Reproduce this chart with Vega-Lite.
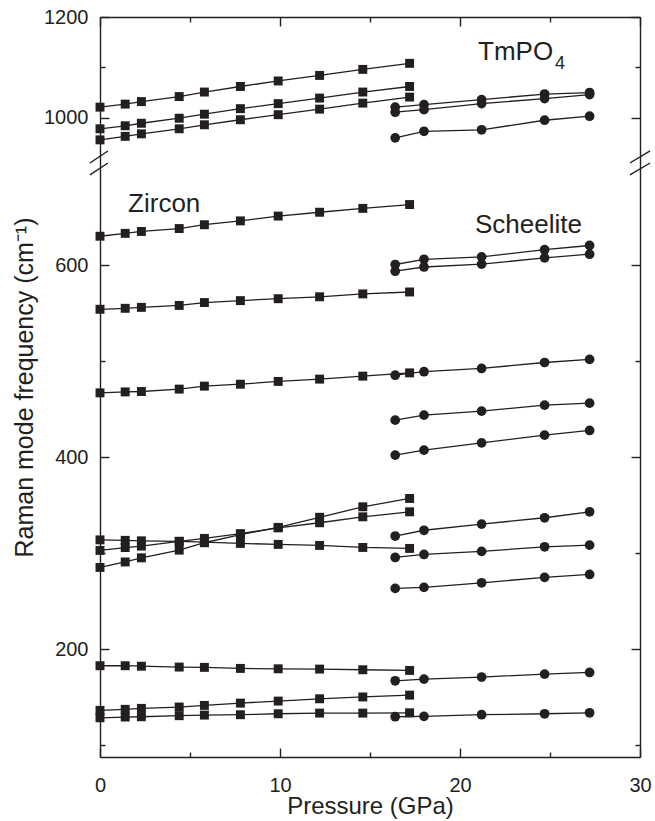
{
  "$schema": "https://vega.github.io/schema/vega-lite/v6.json",
  "width": 540,
  "height": 740,
  "autosize": {"type": "none"},
  "padding": {"left": 100, "top": 17, "right": 15, "bottom": 64},
  "background": "white",
  "config": {
    "view": {"stroke": null},
    "font": "Liberation Sans",
    "axis": {
      "grid": false,
      "domainColor": "#231f20",
      "domainWidth": 1.4,
      "tickColor": "#231f20",
      "tickWidth": 1.4,
      "labelColor": "#231f20",
      "titleColor": "#231f20",
      "labelFont": "Liberation Sans",
      "titleFont": "Liberation Sans",
      "labelFontSize": 20,
      "titleFontSize": 24,
      "titleFontWeight": "normal",
      "labelFlush": false,
      "labelOverlap": false,
      "format": "d"
    }
  },
  "data": {
    "values": [
      {"series": "Z1", "phase": "Zircon", "P": 0, "v": 1021}, {"series": "Z1", "phase": "Zircon", "P": 1.4, "v": 1027}, {"series": "Z1", "phase": "Zircon", "P": 2.3, "v": 1032}, {"series": "Z1", "phase": "Zircon", "P": 4.4, "v": 1042}, {"series": "Z1", "phase": "Zircon", "P": 5.8, "v": 1051}, {"series": "Z1", "phase": "Zircon", "P": 7.8, "v": 1062}, {"series": "Z1", "phase": "Zircon", "P": 9.9, "v": 1073}, {"series": "Z1", "phase": "Zircon", "P": 12.2, "v": 1084}, {"series": "Z1", "phase": "Zircon", "P": 14.6, "v": 1096}, {"series": "Z1", "phase": "Zircon", "P": 17.2, "v": 1108},
      {"series": "Z2", "phase": "Zircon", "P": 0, "v": 978}, {"series": "Z2", "phase": "Zircon", "P": 1.4, "v": 984}, {"series": "Z2", "phase": "Zircon", "P": 2.3, "v": 989}, {"series": "Z2", "phase": "Zircon", "P": 4.4, "v": 999}, {"series": "Z2", "phase": "Zircon", "P": 5.8, "v": 1007}, {"series": "Z2", "phase": "Zircon", "P": 7.8, "v": 1018}, {"series": "Z2", "phase": "Zircon", "P": 9.9, "v": 1028}, {"series": "Z2", "phase": "Zircon", "P": 12.2, "v": 1039}, {"series": "Z2", "phase": "Zircon", "P": 14.6, "v": 1051}, {"series": "Z2", "phase": "Zircon", "P": 17.2, "v": 1062},
      {"series": "Z3", "phase": "Zircon", "P": 0, "v": 956}, {"series": "Z3", "phase": "Zircon", "P": 1.4, "v": 963}, {"series": "Z3", "phase": "Zircon", "P": 2.3, "v": 968}, {"series": "Z3", "phase": "Zircon", "P": 4.4, "v": 978}, {"series": "Z3", "phase": "Zircon", "P": 5.8, "v": 986}, {"series": "Z3", "phase": "Zircon", "P": 7.8, "v": 996}, {"series": "Z3", "phase": "Zircon", "P": 9.9, "v": 1006}, {"series": "Z3", "phase": "Zircon", "P": 12.2, "v": 1017}, {"series": "Z3", "phase": "Zircon", "P": 14.6, "v": 1029}, {"series": "Z3", "phase": "Zircon", "P": 17.2, "v": 1041},
      {"series": "Z4", "phase": "Zircon", "P": 0, "v": 630}, {"series": "Z4", "phase": "Zircon", "P": 1.4, "v": 633}, {"series": "Z4", "phase": "Zircon", "P": 2.3, "v": 635}, {"series": "Z4", "phase": "Zircon", "P": 4.4, "v": 638}, {"series": "Z4", "phase": "Zircon", "P": 5.8, "v": 642}, {"series": "Z4", "phase": "Zircon", "P": 7.8, "v": 646}, {"series": "Z4", "phase": "Zircon", "P": 9.9, "v": 651}, {"series": "Z4", "phase": "Zircon", "P": 12.2, "v": 655}, {"series": "Z4", "phase": "Zircon", "P": 14.6, "v": 659}, {"series": "Z4", "phase": "Zircon", "P": 17.2, "v": 663},
      {"series": "Z5", "phase": "Zircon", "P": 0, "v": 554}, {"series": "Z5", "phase": "Zircon", "P": 1.4, "v": 555}, {"series": "Z5", "phase": "Zircon", "P": 2.3, "v": 556}, {"series": "Z5", "phase": "Zircon", "P": 4.4, "v": 558}, {"series": "Z5", "phase": "Zircon", "P": 5.8, "v": 561}, {"series": "Z5", "phase": "Zircon", "P": 7.8, "v": 563}, {"series": "Z5", "phase": "Zircon", "P": 9.9, "v": 565}, {"series": "Z5", "phase": "Zircon", "P": 12.2, "v": 567}, {"series": "Z5", "phase": "Zircon", "P": 14.6, "v": 570}, {"series": "Z5", "phase": "Zircon", "P": 17.2, "v": 572},
      {"series": "Z6", "phase": "Zircon", "P": 0, "v": 467}, {"series": "Z6", "phase": "Zircon", "P": 1.4, "v": 468}, {"series": "Z6", "phase": "Zircon", "P": 2.3, "v": 468.4}, {"series": "Z6", "phase": "Zircon", "P": 4.4, "v": 470.9}, {"series": "Z6", "phase": "Zircon", "P": 5.8, "v": 474}, {"series": "Z6", "phase": "Zircon", "P": 7.8, "v": 476}, {"series": "Z6", "phase": "Zircon", "P": 9.9, "v": 478.9}, {"series": "Z6", "phase": "Zircon", "P": 12.2, "v": 481.3}, {"series": "Z6", "phase": "Zircon", "P": 14.6, "v": 484.4}, {"series": "Z6", "phase": "Zircon", "P": 17.2, "v": 487.8},
      {"series": "Za", "phase": "Zircon", "P": 0, "v": 314}, {"series": "Za", "phase": "Zircon", "P": 1.4, "v": 313.5}, {"series": "Za", "phase": "Zircon", "P": 2.3, "v": 313}, {"series": "Za", "phase": "Zircon", "P": 4.4, "v": 312.4}, {"series": "Za", "phase": "Zircon", "P": 5.8, "v": 311.6}, {"series": "Za", "phase": "Zircon", "P": 7.8, "v": 310.3}, {"series": "Za", "phase": "Zircon", "P": 9.9, "v": 309.3}, {"series": "Za", "phase": "Zircon", "P": 12.2, "v": 308.2}, {"series": "Za", "phase": "Zircon", "P": 14.6, "v": 306.1}, {"series": "Za", "phase": "Zircon", "P": 17.2, "v": 305.1},
      {"series": "Zb", "phase": "Zircon", "P": 0, "v": 303}, {"series": "Zb", "phase": "Zircon", "P": 1.4, "v": 306}, {"series": "Zb", "phase": "Zircon", "P": 2.3, "v": 307.5}, {"series": "Zb", "phase": "Zircon", "P": 4.4, "v": 312.5}, {"series": "Zb", "phase": "Zircon", "P": 5.8, "v": 315.5}, {"series": "Zb", "phase": "Zircon", "P": 7.8, "v": 320.5}, {"series": "Zb", "phase": "Zircon", "P": 9.9, "v": 326.5}, {"series": "Zb", "phase": "Zircon", "P": 12.2, "v": 331.8}, {"series": "Zb", "phase": "Zircon", "P": 14.6, "v": 338}, {"series": "Zb", "phase": "Zircon", "P": 17.2, "v": 343.2},
      {"series": "Zc", "phase": "Zircon", "P": 0, "v": 285.3}, {"series": "Zc", "phase": "Zircon", "P": 1.4, "v": 291}, {"series": "Zc", "phase": "Zircon", "P": 2.3, "v": 295.3}, {"series": "Zc", "phase": "Zircon", "P": 4.4, "v": 303.3}, {"series": "Zc", "phase": "Zircon", "P": 5.8, "v": 311}, {"series": "Zc", "phase": "Zircon", "P": 7.8, "v": 319.5}, {"series": "Zc", "phase": "Zircon", "P": 9.9, "v": 327}, {"series": "Zc", "phase": "Zircon", "P": 12.2, "v": 337.5}, {"series": "Zc", "phase": "Zircon", "P": 14.6, "v": 348.4}, {"series": "Zc", "phase": "Zircon", "P": 17.2, "v": 357.1},
      {"series": "Z7", "phase": "Zircon", "P": 0, "v": 183}, {"series": "Z7", "phase": "Zircon", "P": 1.4, "v": 183}, {"series": "Z7", "phase": "Zircon", "P": 2.3, "v": 182.5}, {"series": "Z7", "phase": "Zircon", "P": 4.4, "v": 181.6}, {"series": "Z7", "phase": "Zircon", "P": 5.8, "v": 181.3}, {"series": "Z7", "phase": "Zircon", "P": 7.8, "v": 180.2}, {"series": "Z7", "phase": "Zircon", "P": 9.9, "v": 179.8}, {"series": "Z7", "phase": "Zircon", "P": 12.2, "v": 179.5}, {"series": "Z7", "phase": "Zircon", "P": 14.6, "v": 178.8}, {"series": "Z7", "phase": "Zircon", "P": 17.2, "v": 178.1},
      {"series": "Z8", "phase": "Zircon", "P": 0, "v": 136.5}, {"series": "Z8", "phase": "Zircon", "P": 1.4, "v": 137.6}, {"series": "Z8", "phase": "Zircon", "P": 2.3, "v": 138.6}, {"series": "Z8", "phase": "Zircon", "P": 4.4, "v": 140}, {"series": "Z8", "phase": "Zircon", "P": 5.8, "v": 141.7}, {"series": "Z8", "phase": "Zircon", "P": 7.8, "v": 144.1}, {"series": "Z8", "phase": "Zircon", "P": 9.9, "v": 146.2}, {"series": "Z8", "phase": "Zircon", "P": 12.2, "v": 148.6}, {"series": "Z8", "phase": "Zircon", "P": 14.6, "v": 150.5}, {"series": "Z8", "phase": "Zircon", "P": 17.2, "v": 152.4},
      {"series": "Z9", "phase": "Zircon", "P": 0, "v": 128.8}, {"series": "Z9", "phase": "Zircon", "P": 1.4, "v": 129.6}, {"series": "Z9", "phase": "Zircon", "P": 2.3, "v": 129.9}, {"series": "Z9", "phase": "Zircon", "P": 4.4, "v": 131}, {"series": "Z9", "phase": "Zircon", "P": 5.8, "v": 131.6}, {"series": "Z9", "phase": "Zircon", "P": 7.8, "v": 132}, {"series": "Z9", "phase": "Zircon", "P": 9.9, "v": 133}, {"series": "Z9", "phase": "Zircon", "P": 12.2, "v": 133.7}, {"series": "Z9", "phase": "Zircon", "P": 14.6, "v": 133.7}, {"series": "Z9", "phase": "Zircon", "P": 17.2, "v": 134},
      {"series": "S1", "phase": "Scheelite", "P": 16.4, "v": 1021}, {"series": "S1", "phase": "Scheelite", "P": 18, "v": 1026}, {"series": "S1", "phase": "Scheelite", "P": 21.2, "v": 1036}, {"series": "S1", "phase": "Scheelite", "P": 24.7, "v": 1047}, {"series": "S1", "phase": "Scheelite", "P": 27.2, "v": 1050},
      {"series": "S2", "phase": "Scheelite", "P": 16.4, "v": 1011}, {"series": "S2", "phase": "Scheelite", "P": 18, "v": 1016}, {"series": "S2", "phase": "Scheelite", "P": 21.2, "v": 1028}, {"series": "S2", "phase": "Scheelite", "P": 24.7, "v": 1038}, {"series": "S2", "phase": "Scheelite", "P": 27.2, "v": 1046},
      {"series": "S3", "phase": "Scheelite", "P": 16.4, "v": 960}, {"series": "S3", "phase": "Scheelite", "P": 18, "v": 973}, {"series": "S3", "phase": "Scheelite", "P": 21.2, "v": 976}, {"series": "S3", "phase": "Scheelite", "P": 24.7, "v": 995}, {"series": "S3", "phase": "Scheelite", "P": 27.2, "v": 1003},
      {"series": "S9", "phase": "Scheelite", "P": 16.4, "v": 600.6}, {"series": "S9", "phase": "Scheelite", "P": 18, "v": 606}, {"series": "S9", "phase": "Scheelite", "P": 21.2, "v": 608.5}, {"series": "S9", "phase": "Scheelite", "P": 24.7, "v": 616}, {"series": "S9", "phase": "Scheelite", "P": 27.2, "v": 620.4},
      {"series": "S10", "phase": "Scheelite", "P": 16.4, "v": 593.6}, {"series": "S10", "phase": "Scheelite", "P": 18, "v": 598}, {"series": "S10", "phase": "Scheelite", "P": 21.2, "v": 601}, {"series": "S10", "phase": "Scheelite", "P": 24.7, "v": 607.5}, {"series": "S10", "phase": "Scheelite", "P": 27.2, "v": 611.3},
      {"series": "S11", "phase": "Scheelite", "P": 16.4, "v": 485.4}, {"series": "S11", "phase": "Scheelite", "P": 18, "v": 489}, {"series": "S11", "phase": "Scheelite", "P": 21.2, "v": 492.4}, {"series": "S11", "phase": "Scheelite", "P": 24.7, "v": 498.6}, {"series": "S11", "phase": "Scheelite", "P": 27.2, "v": 501.8},
      {"series": "S12", "phase": "Scheelite", "P": 16.4, "v": 438.6}, {"series": "S12", "phase": "Scheelite", "P": 18, "v": 443.8}, {"series": "S12", "phase": "Scheelite", "P": 21.2, "v": 448}, {"series": "S12", "phase": "Scheelite", "P": 24.7, "v": 454.2}, {"series": "S12", "phase": "Scheelite", "P": 27.2, "v": 456.3},
      {"series": "S13", "phase": "Scheelite", "P": 16.4, "v": 402.2}, {"series": "S13", "phase": "Scheelite", "P": 18, "v": 407.4}, {"series": "S13", "phase": "Scheelite", "P": 21.2, "v": 415}, {"series": "S13", "phase": "Scheelite", "P": 24.7, "v": 423}, {"series": "S13", "phase": "Scheelite", "P": 27.2, "v": 427.9},
      {"series": "S6", "phase": "Scheelite", "P": 16.4, "v": 318}, {"series": "S6", "phase": "Scheelite", "P": 18, "v": 324}, {"series": "S6", "phase": "Scheelite", "P": 21.2, "v": 330.4}, {"series": "S6", "phase": "Scheelite", "P": 24.7, "v": 337}, {"series": "S6", "phase": "Scheelite", "P": 27.2, "v": 343.2},
      {"series": "S7", "phase": "Scheelite", "P": 16.4, "v": 295.7}, {"series": "S7", "phase": "Scheelite", "P": 18, "v": 298.8}, {"series": "S7", "phase": "Scheelite", "P": 21.2, "v": 302}, {"series": "S7", "phase": "Scheelite", "P": 24.7, "v": 306.8}, {"series": "S7", "phase": "Scheelite", "P": 27.2, "v": 308.5},
      {"series": "S8", "phase": "Scheelite", "P": 16.4, "v": 263.5}, {"series": "S8", "phase": "Scheelite", "P": 18, "v": 264.5}, {"series": "S8", "phase": "Scheelite", "P": 21.2, "v": 269.3}, {"series": "S8", "phase": "Scheelite", "P": 24.7, "v": 275}, {"series": "S8", "phase": "Scheelite", "P": 27.2, "v": 278},
      {"series": "S4", "phase": "Scheelite", "P": 16.4, "v": 167.3}, {"series": "S4", "phase": "Scheelite", "P": 18, "v": 169.1}, {"series": "S4", "phase": "Scheelite", "P": 21.2, "v": 171.2}, {"series": "S4", "phase": "Scheelite", "P": 24.7, "v": 174.3}, {"series": "S4", "phase": "Scheelite", "P": 27.2, "v": 176},
      {"series": "S5", "phase": "Scheelite", "P": 16.4, "v": 129.9}, {"series": "S5", "phase": "Scheelite", "P": 18, "v": 130.3}, {"series": "S5", "phase": "Scheelite", "P": 21.2, "v": 132}, {"series": "S5", "phase": "Scheelite", "P": 24.7, "v": 133}, {"series": "S5", "phase": "Scheelite", "P": 27.2, "v": 134}
    ]
  },
  "resolve": {"axis": {"x": "independent", "y": "independent"}},
  "layer": [
    {
      "mark": {"type": "line", "color": "#231f20", "strokeWidth": 1.3},
      "encoding": {
        "x": {"field": "P", "type": "quantitative", "scale": {"domain": [0, 30], "nice": false, "zero": false},
          "axis": {"orient": "bottom", "values": [0, 10, 20, 30], "tickSize": -9, "labelPadding": 27, "title": "Pressure (GPa)", "titlePadding": -1}},
        "y": {"field": "v", "type": "quantitative", "scale": {"domain": [88, 700, 922, 1200], "range": [740, 152, 140, 0], "nice": false, "zero": false},
          "axis": {"orient": "left", "values": [200, 400, 600, 1000, 1200], "tickSize": -9, "labelPadding": 21, "title": "Raman mode frequency (cm⁻¹)", "titleFontSize": 25, "titlePadding": 6}},
        "detail": {"field": "series"}
      }
    },
    {
      "transform": [{"filter": "datum.phase === 'Zircon'"}],
      "mark": {"type": "point", "shape": "square", "filled": true, "size": 80, "color": "#231f20", "opacity": 1},
      "encoding": {
        "x": {"field": "P", "type": "quantitative",
          "axis": {"orient": "bottom", "values": [5, 15, 25], "tickSize": -5, "labels": false, "domain": false, "title": null}},
        "y": {"field": "v", "type": "quantitative",
          "axis": {"orient": "left", "values": [100, 300, 500, 1100], "tickSize": -5, "labels": false, "domain": false, "title": null}}
      }
    },
    {
      "transform": [{"filter": "datum.phase === 'Scheelite'"}],
      "mark": {"type": "point", "shape": "circle", "filled": true, "size": 95, "color": "#231f20", "opacity": 1},
      "encoding": {
        "x": {"field": "P", "type": "quantitative",
          "axis": {"orient": "top", "values": [0, 10, 20, 30], "tickSize": -9, "labels": false, "title": null}},
        "y": {"field": "v", "type": "quantitative",
          "axis": {"orient": "right", "values": [200, 400, 600, 1000, 1200], "tickSize": -9, "labels": false, "title": null}}
      }
    },
    {
      "data": {"values": [
        {"label": "Zircon", "P": 1.56, "v": 655.4},
        {"label": "Scheelite", "P": 20.83, "v": 633.5},
        {"label": "TmPO", "P": 21.0, "v": 1114.9}
      ]},
      "mark": {"type": "text", "align": "left", "baseline": "alphabetic", "fontSize": 26, "font": "Liberation Sans", "color": "#231f20"},
      "encoding": {
        "x": {"field": "P", "type": "quantitative",
          "axis": {"orient": "top", "values": [5, 15, 25], "tickSize": -5, "labels": false, "domain": false, "title": null}},
        "y": {"field": "v", "type": "quantitative",
          "axis": {"orient": "right", "values": [100, 300, 500, 1100], "tickSize": -5, "labels": false, "domain": false, "title": null}},
        "text": {"field": "label"}
      }
    },
    {
      "data": {"values": [{"label": "4", "P": 25.28, "v": 1097}]},
      "mark": {"type": "text", "align": "left", "baseline": "alphabetic", "fontSize": 18, "font": "Liberation Sans", "color": "#231f20"},
      "encoding": {
        "x": {"field": "P", "type": "quantitative", "axis": null},
        "y": {"field": "v", "type": "quantitative", "axis": null},
        "text": {"field": "label"}
      }
    },
    {
      "data": {"values": [
        {"P1": -0.56, "P2": 0.44, "v1": 811, "v2": 934},
        {"P1": -0.56, "P2": 0.44, "v1": 693.8, "v2": 811},
        {"P1": 29.44, "P2": 30.56, "v1": 811, "v2": 934},
        {"P1": 29.44, "P2": 30.56, "v1": 693.8, "v2": 811}
      ]},
      "mark": {"type": "rule", "color": "#231f20", "strokeWidth": 1.4},
      "encoding": {
        "x": {"field": "P1", "type": "quantitative", "axis": null},
        "x2": {"field": "P2"},
        "y": {"field": "v1", "type": "quantitative", "axis": null},
        "y2": {"field": "v2"}
      }
    }
  ]
}
